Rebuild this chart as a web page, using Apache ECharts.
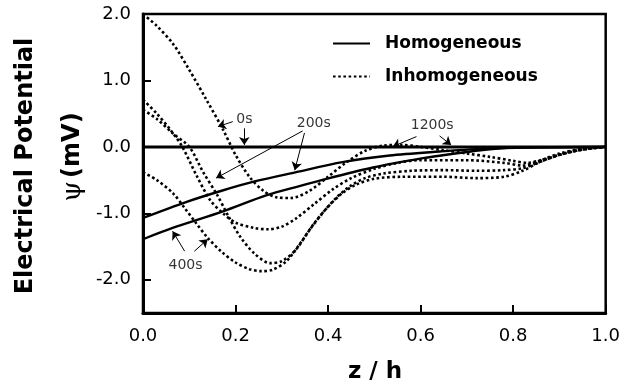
<!DOCTYPE html>
<html>
<head>
<meta charset="utf-8">
<script src="https://cdn.jsdelivr.net/npm/echarts@6/dist/echarts.min.js"></script>
<style>
  html, body { margin: 0; padding: 0; background: #fff; }
  #chart { width: 623px; height: 388px; }
</style>
</head>
<body>
<div id="chart"></div>
<script>
// tick values
const yTicks = [-2, -1, 0, 1, 2];

// homogeneous profiles (z/h, psi in mV)
const homo0sZ = [0, 1];
const homo0sPsi = [0, 0];
const homo200sZ = [0, 0.093, 0.17, 0.241, 0.331, 0.431, 0.533, 0.641, 0.73, 0.84, 1.0];
const homo200sPsi = [-1.07, -0.83, -0.66, -0.52, -0.38, -0.23, -0.13, -0.07, -0.03, -0.01, 0];
const homo400sZ = [0, 0.064, 0.173, 0.266, 0.338, 0.403, 0.497, 0.605, 0.663, 0.73, 0.8, 1.0];
const homo400sPsi = [-1.39, -1.22, -0.97, -0.73, -0.59, -0.47, -0.31, -0.17, -0.11, -0.05, -0.01, 0];

// inhomogeneous profiles
const inh0sZ = [0, 0.03, 0.065, 0.1, 0.137, 0.173, 0.2, 0.23, 0.26, 0.29, 0.32, 0.36, 0.4, 0.44, 0.48, 0.52, 0.56, 0.6, 0.65, 0.7, 0.75, 0.8, 0.83, 0.87, 0.92, 0.96, 1.0];
const inh0sPsi = [2.0, 1.82, 1.55, 1.16, 0.71, 0.26, -0.12, -0.45, -0.66, -0.76, -0.77, -0.66, -0.45, -0.23, -0.06, 0.02, 0.03, 0.0, -0.05, -0.1, -0.15, -0.21, -0.24, -0.18, -0.08, -0.03, 0];
const inhAZ = [0, 0.03, 0.06, 0.085, 0.115, 0.145, 0.173, 0.2, 0.24, 0.27, 0.3, 0.33, 0.37, 0.41, 0.45, 0.5, 0.55, 0.6, 0.7, 0.78, 0.82, 0.86, 0.9, 0.95, 1.0];
const inhAPsi = [0.71, 0.5, 0.25, 0, -0.42, -0.8, -1.0, -1.14, -1.22, -1.24, -1.2, -1.08, -0.86, -0.64, -0.47, -0.33, -0.24, -0.2, -0.2, -0.24, -0.28, -0.2, -0.1, -0.03, 0];
const inhBZ = [0, 0.03, 0.065, 0.1, 0.13, 0.16, 0.185, 0.21, 0.24, 0.275, 0.3, 0.33, 0.36, 0.39, 0.42, 0.45, 0.48, 0.52, 0.58, 0.65, 0.72, 0.78, 0.82, 0.86, 0.9, 0.95, 1.0];
const inhBPsi = [0.56, 0.42, 0.2, 0, -0.38, -0.72, -1.05, -1.35, -1.6, -1.75, -1.72, -1.55, -1.25, -0.98, -0.75, -0.58, -0.47, -0.4, -0.36, -0.35, -0.36, -0.35, -0.32, -0.22, -0.12, -0.04, 0];
const inhCZ = [0, 0.03, 0.065, 0.09, 0.115, 0.14, 0.17, 0.2, 0.23, 0.255, 0.28, 0.31, 0.34, 0.37, 0.4, 0.43, 0.46, 0.5, 0.56, 0.65, 0.72, 0.78, 0.82, 0.86, 0.9, 0.95, 1.0];
const inhCPsi = [-0.38, -0.5, -0.7, -0.92, -1.15, -1.37, -1.58, -1.74, -1.84, -1.87, -1.85, -1.72, -1.45, -1.15, -0.9, -0.7, -0.57, -0.48, -0.45, -0.45, -0.47, -0.45, -0.36, -0.22, -0.12, -0.04, 0];

// time annotations (data coords)
const noteLabels = [
  { name: '0s', value: [0.219, 0.41] },
  { name: '200s', value: [0.369, 0.35] },
  { name: '400s', value: [0.092, -1.79] },
  { name: '1200s', value: [0.625, 0.32] }
];
const noteArrows = [
  [[0.194, 0.38], [0.162, 0.305]],
  [[0.219, 0.28], [0.219, 0.03]],
  [[0.345, 0.24], [0.158, -0.47]],
  [[0.349, 0.21], [0.328, -0.35]],
  [[0.09, -1.57], [0.064, -1.27]],
  [[0.111, -1.57], [0.14, -1.39]],
  [[0.591, 0.155], [0.54, 0.005]],
  [[0.641, 0.165], [0.666, 0.03]]
];

const zip = (z, p) => z.map((v, i) => [v, p[i]]);
const FONT = '"DejaVu Sans", sans-serif';

function homo(z, p, w) {
  return {
    name: 'Homogeneous', type: 'line', data: zip(z, p), symbol: 'none', smooth: 0.3,
    lineStyle: { color: '#000', width: w || 2.4, type: 'solid' }, itemStyle: { color: '#000' }, z: 3
  };
}
function inhomo(z, p) {
  return {
    name: 'Inhomogeneous', type: 'line', data: zip(z, p), symbol: 'none', smooth: 0.3,
    lineStyle: { color: '#000', width: 2.6, type: [2.6, 2.6], cap: 'butt' }, itemStyle: { color: '#000' }, z: 2
  };
}

const chart = echarts.init(document.getElementById('chart'));
chart.setOption({
  animation: false,
  grid: { left: 143, right: 17, top: 14, bottom: 75, show: true, borderColor: '#000', borderWidth: 2.5 },
  legend: {
    data: ['Homogeneous', 'Inhomogeneous'],
    orient: 'vertical', left: 332, top: 35, padding: 0,
    itemWidth: 37, itemHeight: 14, itemGap: 16,
    itemStyle: { opacity: 0 },
    textStyle: { fontFamily: FONT, fontWeight: 'bold', fontSize: 17, color: '#000', padding: [0, 0, 0, 10] }
  },
  xAxis: {
    type: 'value', min: 0, max: 1, interval: 0.2,
    axisLine: { onZero: false, lineStyle: { color: '#000', width: 3 } },
    axisTick: { inside: true, length: 8, lineStyle: { color: '#000', width: 2 } },
    axisLabel: { margin: 14, color: '#000', fontFamily: FONT, fontSize: 18, formatter: v => v.toFixed(1) },
    splitLine: { show: false }
  },
  yAxis: {
    type: 'value', min: -2.5, max: 2,
    axisLine: { onZero: false, lineStyle: { color: '#000', width: 3 } },
    axisTick: { inside: true, length: 8, customValues: yTicks, lineStyle: { color: '#000', width: 2 } },
    axisLabel: { margin: 12, color: '#000', fontFamily: FONT, fontSize: 18, customValues: yTicks, formatter: v => v.toFixed(1) },
    splitLine: { show: false }
  },
  graphic: [
    { type: 'text', x: 26, y: 166, rotation: Math.PI / 2,
      style: { text: 'Electrical Potential', font: 'bold 24px "DejaVu Sans"', fill: '#000', align: 'center', verticalAlign: 'middle' } },
    { type: 'text', x: 73, y: 157, rotation: Math.PI / 2,
      style: { text: '{a|ψ} {b|(mV)}', align: 'center', verticalAlign: 'middle',
        rich: { a: { font: '26px "DejaVu Serif"', fill: '#000' }, b: { font: 'bold 24px "DejaVu Sans"', fill: '#000' } } } },
    { type: 'text', x: 375, y: 372,
      style: { text: 'z / h', font: 'bold 23px "DejaVu Sans"', fill: '#000', align: 'center', verticalAlign: 'middle' } }
  ],
  series: [
    homo(homo0sZ, homo0sPsi, 3),
    homo(homo200sZ, homo200sPsi),
    homo(homo400sZ, homo400sPsi),
    inhomo(inh0sZ, inh0sPsi),
    inhomo(inhAZ, inhAPsi),
    inhomo(inhBZ, inhBPsi),
    inhomo(inhCZ, inhCPsi),
    {
      type: 'lines', coordinateSystem: 'cartesian2d', silent: true, z: 4,
      symbol: ['none', 'arrow'], symbolSize: 8,
      lineStyle: { color: '#000', width: 1, opacity: 1 },
      data: noteArrows.map(c => ({ coords: c }))
    },
    {
      type: 'scatter', silent: true, symbolSize: 1, z: 5,
      itemStyle: { color: 'rgba(0,0,0,0)' },
      label: { show: true, position: 'inside', formatter: '{b}', color: '#000', fontFamily: FONT, fontSize: 14 },
      data: noteLabels
    }
  ]
});
</script>
</body>
</html>
